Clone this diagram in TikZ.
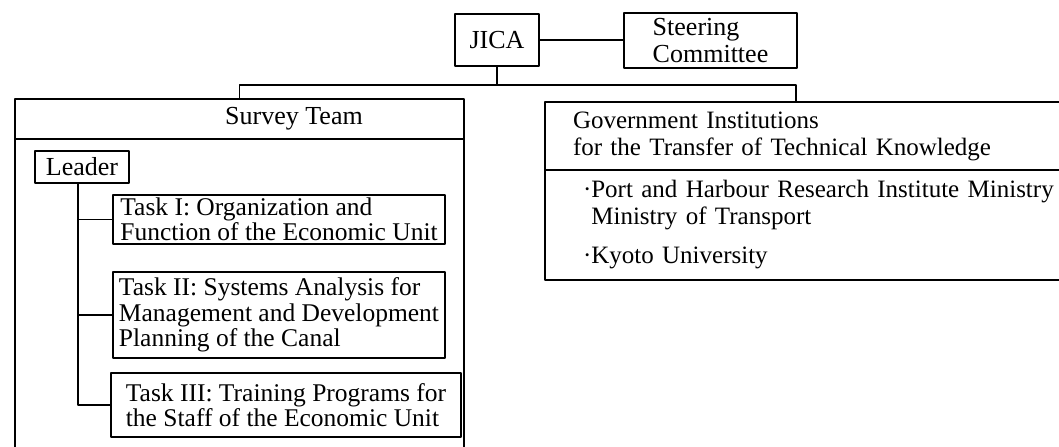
\documentclass[tikz,border=0pt]{standalone}
\usepackage{fontspec}
\setmainfont{Liberation Serif}
\usetikzlibrary{positioning}

\tikzset{
  box/.style={draw, line width=0.9pt, rectangle, outer sep=0pt, inner sep=1.5pt,
    font=\fontsize{13}{13.5}\selectfont},
  task/.style={box, anchor=west, align=left, minimum width=166pt, inner xsep=2pt, inner ysep=1.5pt,
    font=\fontsize{12.75}{11.5}\selectfont},
  gov/.style={box, align=left, font=\fontsize{12.5}{13.5}\selectfont},
  link/.style={line width=0.9pt}
}

\begin{document}
\begin{tikzpicture}[line cap=round,line join=round,x=0.5pt,y=-0.5pt]
    \useasboundingbox (0,0) rectangle (1059,446);

    % top of the chart
    \node[box, minimum width=42pt, minimum height=26pt] (jica) at (497,40) {JICA};
    \node[box, minimum width=86.5pt, minimum height=27.5pt, align=left] (steering) at (710.5,40.5) {Steering\\Committee};
    \draw[link] (jica.east) -- (steering.west |- jica.east);

    % survey team frame
    \node[box, minimum width=224.5pt, minimum height=20pt] (surveyhead) at (239.5,119) {};
    \node[box, anchor=north, minimum width=224.5pt, minimum height=158pt] (surveybody) at (surveyhead.south) {};
    \node[font=\fontsize{13}{13.5}\selectfont] (surveytitle) at (294,119) {Survey Team};

    \node[box, minimum width=47pt, minimum height=16pt] (leader) at (82,167) {Leader};
    \node[task, minimum height=24pt] (task1) at (113,219.5) {Task I: Organization and\\Function of the Economic Unit};
    \node[task, minimum height=43pt] (task2) at (113,315) {Task II: Systems Analysis for\\Management and Development\\Planning of the Canal};
    \node[task, minimum height=32pt, minimum width=175pt, font=\fontsize{12.75}{12.5}\selectfont] (task3) at (111,405) {Task III: Training Programs for\\the Staff of the Economic Unit};

    \coordinate (spine) at ([xshift=-2pt]leader.south);
    \draw[link] (spine) |- (task3.west);
    \draw[link] (spine |- task1.west) -- (task1.west);
    \draw[link] (spine |- task2.west) -- (task2.west);

    % government institutions
    \node[gov, anchor=north west, text width=254.5pt, inner xsep=14pt, minimum height=34pt] (govhead) at (545,102)
        {Government Institutions\\for the Transfer of Technical Knowledge};
    \node[gov, anchor=north, text width=244.5pt, inner xsep=19pt, minimum height=55pt] (govbody) at (govhead.south)
        {·Port and Harbour Research Institute Ministry\\\hphantom{·}Ministry of Transport\\[6pt]·Kyoto University};

    % lines down from JICA
    \draw[link] (jica.south) -- ++(0,19) coordinate (bus);
    \coordinate (govdrop) at (796,102);
    \draw[link] (surveyhead.north) |- (bus) -| (govdrop);
\end{tikzpicture}
\end{document}
